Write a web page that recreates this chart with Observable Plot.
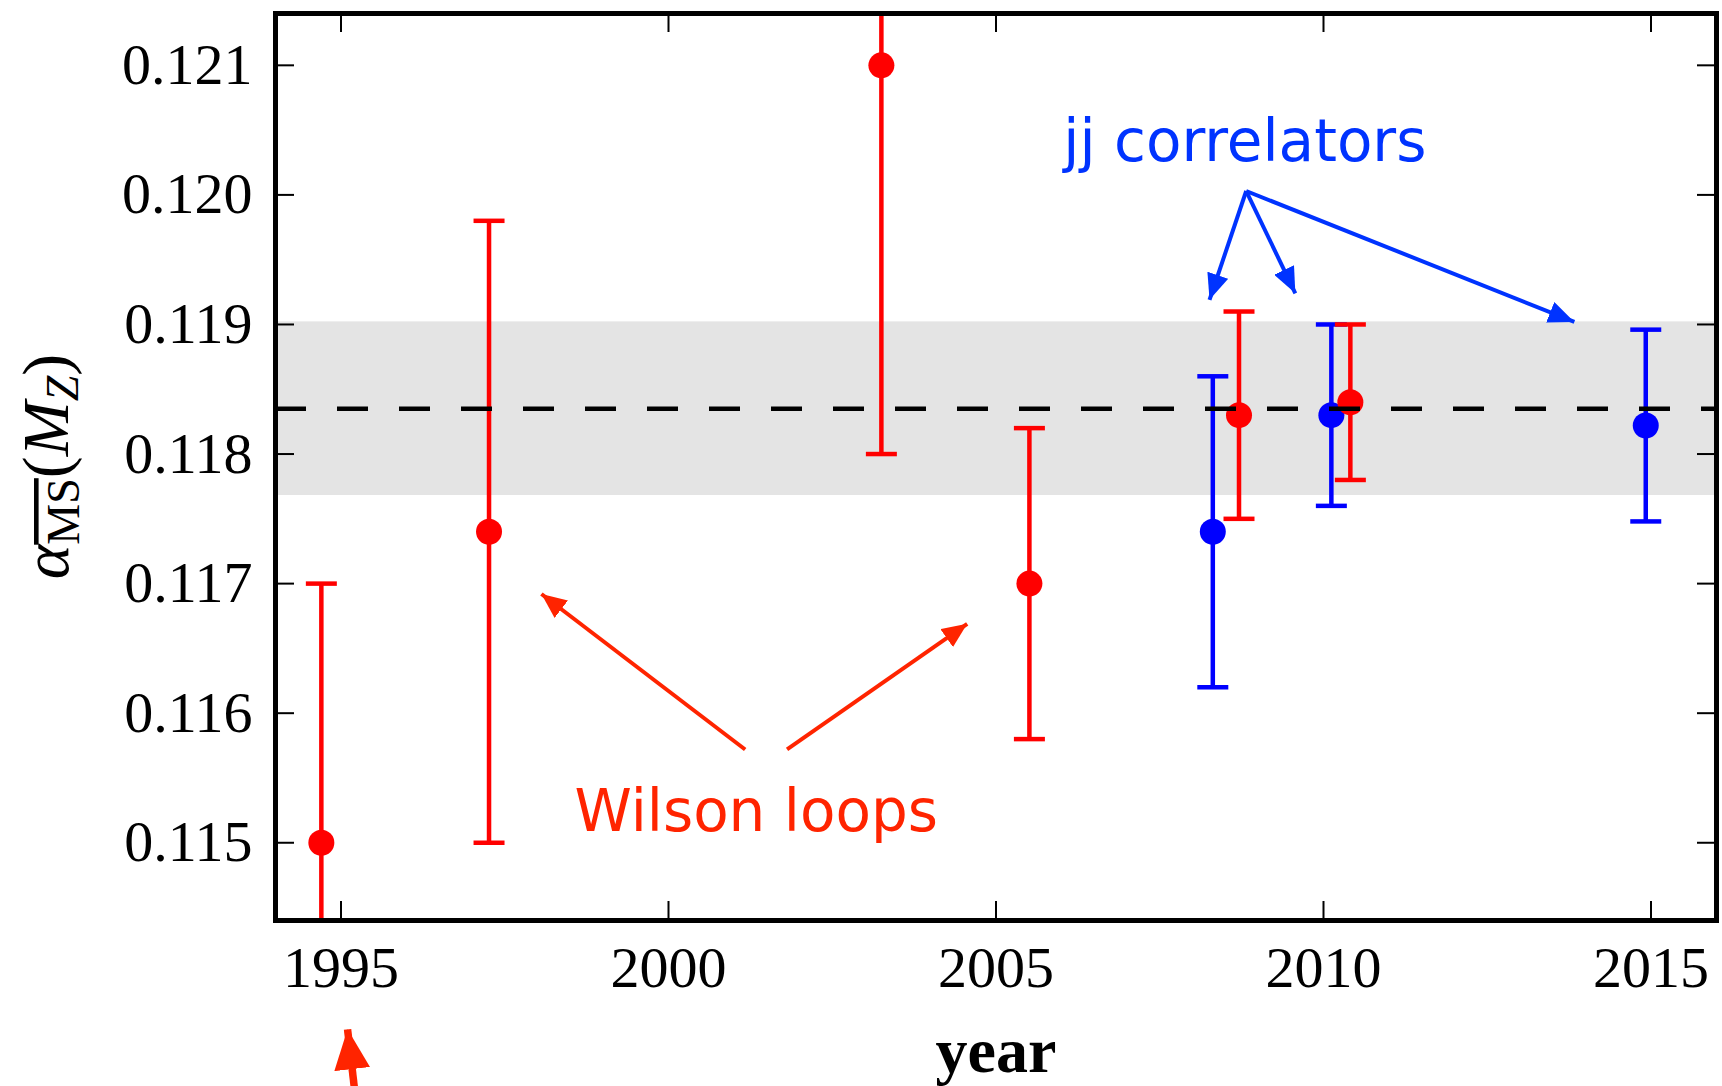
<!DOCTYPE html>
<html>
<head>
<meta charset="utf-8">
<script src="https://cdn.jsdelivr.net/npm/d3@7"></script>
<script src="https://cdn.jsdelivr.net/npm/@observablehq/plot@0.6"></script>
<style>
  html, body { margin: 0; padding: 0; background: #fff; }
</style>
</head>
<body>
<div id="chart"></div>
<script>
// Lattice determinations of alpha_s(M_Z) from Wilson loops
const wilsonYear  = [1994.70, 1997.26, 2003.25, 2005.51, 2008.71, 2010.41];
const wilsonAlpha = [0.1150, 0.1174, 0.1210, 0.1170, 0.1183, 0.1184];
const wilsonError = [0.0020, 0.0024, 0.0030, 0.0012, 0.0008, 0.0006];

// Determinations from current-current (jj) correlators
const jjYear  = [2008.31, 2010.12, 2014.92];
const jjAlpha = [0.1174, 0.1183, 0.11822];
const jjError = [0.0012, 0.0007, 0.00074];

// Average and its uncertainty band
const average = 0.11835;
const averageError = 0.00067;

// Axis ticks
const xTicks = [1995, 2000, 2005, 2010, 2015];
const yTicks = [0.115, 0.116, 0.117, 0.118, 0.119, 0.120, 0.121];

// Annotation labels (anchor year, anchor value)
const labelText  = ["jj correlators", "Wilson loops"];
const labelYear  = [2008.80, 2001.34];
const labelAlpha = [0.12026, 0.11509];

// Annotation arrows: tail (year, value) -> head (year, value)
const jjArrowX1 = [2008.82, 2008.82, 2008.82];
const jjArrowY1 = [0.12003, 0.12003, 0.12003];
const jjArrowX2 = [2008.26, 2009.57, 2013.83];
const jjArrowY2 = [0.11919, 0.11924, 0.11902];
const wlArrowX1 = [2001.17, 2001.81, 1995.22];
const wlArrowY1 = [0.11572, 0.11572, 0.11304];
const wlArrowX2 = [1998.06, 2004.56, 1995.10];
const wlArrowY2 = [0.11692, 0.11669, 0.11356];

const RED = "#ff0000", BLUE = "#0000ff";
const WL_COLOR = "#ff2400", JJ_COLOR = "#0033ff";

const wilson = wilsonYear.map((x, i) => ({x, y: wilsonAlpha[i], lo: wilsonAlpha[i] - wilsonError[i], hi: wilsonAlpha[i] + wilsonError[i]}));
const jj = jjYear.map((x, i) => ({x, y: jjAlpha[i], lo: jjAlpha[i] - jjError[i], hi: jjAlpha[i] + jjError[i]}));
const labels = labelText.map((t, i) => ({t, x: labelYear[i], y: labelAlpha[i]}));
const jjArrows = jjArrowX1.map((x1, i) => ({x1, y1: jjArrowY1[i], x2: jjArrowX2[i], y2: jjArrowY2[i]}));
const wlArrows = wlArrowX1.map((x1, i) => ({x1, y1: wlArrowY1[i], x2: wlArrowX2[i], y2: wlArrowY2[i], w: i === 2 ? 7.5 : 4}));

// horizontal error-bar cap drawn as a symbol
const capSymbol = {
  draw(context, size) {
    const h = Math.sqrt(size / Math.PI);
    context.moveTo(-h, 0);
    context.lineTo(h, 0);
  }
};

const W = 1722, H = 1086;
const mL = 275, mR = 6, mT = 13, mB = 166;
const innerW = W - mL - mR, innerH = H - mT - mB;
const TICK = 19;
const serif = "Liberation Serif";

function errorMarks(data, color) {
  return [
    Plot.ruleX(data, {x: "x", y1: "lo", y2: "hi", stroke: color, strokeWidth: 4.5, clip: true}),
    Plot.dot(data, {x: "x", y: "lo", symbol: capSymbol, r: 15.5, stroke: color, fill: "none", strokeWidth: 4.5, clip: true}),
    Plot.dot(data, {x: "x", y: "hi", symbol: capSymbol, r: 15.5, stroke: color, fill: "none", strokeWidth: 4.5, clip: true})
  ];
}

const chart = Plot.plot({
  width: W,
  height: H,
  marginLeft: mL,
  marginRight: mR,
  marginTop: mT,
  marginBottom: mB,
  style: {background: "#fff", color: "#000"},
  x: {domain: [1994, 2016]},
  y: {domain: [0.1144, 0.1214]},
  marks: [
    // uncertainty band of the average
    Plot.rect([average], {y1: d => d - averageError, y2: d => d + averageError, fill: "#e4e4e4"}),

    ...errorMarks(jj, BLUE),
    Plot.dot(jj, {x: "x", y: "y", r: 13, fill: BLUE}),
    ...errorMarks(wilson, RED),
    Plot.dot(wilson, {x: "x", y: "y", r: 13, fill: RED}),

    // average
    Plot.ruleY([average], {stroke: "#000", strokeWidth: 4.5, strokeDasharray: "31,31"}),

    // inward ticks on all four sides
    Plot.ruleX(xTicks, {x: d => d, insetTop: innerH - TICK, stroke: "#000", strokeWidth: 2}),
    Plot.ruleX(xTicks, {x: d => d, insetBottom: innerH - TICK, stroke: "#000", strokeWidth: 2}),
    Plot.ruleY(yTicks, {y: d => d, insetRight: innerW - TICK, stroke: "#000", strokeWidth: 2}),
    Plot.ruleY(yTicks, {y: d => d, insetLeft: innerW - TICK, stroke: "#000", strokeWidth: 2}),

    // tick labels
    Plot.axisX(xTicks, {tickSize: 0, tickPadding: 25, fontSize: 58, fontFamily: serif, tickFormat: d => String(d), label: null}),
    Plot.axisY(yTicks, {tickSize: 0, tickPadding: 23, fontSize: 58, fontFamily: serif, tickFormat: d3.format(".3f"), label: null}),

    // x-axis title
    Plot.text(["year"], {frameAnchor: "bottom", dy: 151, lineAnchor: "bottom", fontSize: 64, fontWeight: "bold", fontFamily: serif, fill: "#000"}),

    // annotations
    Plot.text(labels.slice(0, 1), {x: "x", y: "y", text: "t", lineAnchor: "bottom", textAnchor: "middle", fontSize: 58, fontFamily: "DejaVu Sans", fill: JJ_COLOR}),
    Plot.text(labels.slice(1), {x: "x", y: "y", text: "t", lineAnchor: "bottom", textAnchor: "middle", fontSize: 58, fontFamily: "DejaVu Sans", fill: WL_COLOR}),
    Plot.link(jjArrows, {x1: "x1", y1: "y1", x2: "x2", y2: "y2", stroke: JJ_COLOR, strokeWidth: 4}),
    Plot.link(wlArrows, {x1: "x1", y1: "y1", x2: "x2", y2: "y2", stroke: WL_COLOR, strokeWidth: "w"}),

    Plot.frame({stroke: "#000", strokeWidth: 5})
  ]
});

document.getElementById("chart").appendChild(chart);

const svg = d3.select(chart);
svg.attr("overflow", "visible");

// filled triangular arrowheads
const defs = svg.append("defs");
function head(id, color, len, wid) {
  defs.append("marker")
    .attr("id", id)
    .attr("viewBox", `0 0 ${len} ${wid}`)
    .attr("refX", len)
    .attr("refY", wid / 2)
    .attr("markerWidth", len)
    .attr("markerHeight", wid)
    .attr("markerUnits", "userSpaceOnUse")
    .attr("orient", "auto")
    .append("path")
    .attr("d", `M0,0L${len},${wid / 2}L0,${wid}Z`)
    .attr("fill", color);
}
head("head-jj", JJ_COLOR, 26, 22);
head("head-wl", WL_COLOR, 25, 22);
head("head-wl-big", WL_COLOR, 40, 36);

// the two link marks, in the order they were declared
const linkGroups = svg.selectAll('g[aria-label="link"]').nodes();
d3.select(linkGroups[0]).selectAll("path").attr("marker-end", "url(#head-jj)");
d3.select(linkGroups[1]).selectAll("path").each(function(d, i) {
  d3.select(this).attr("marker-end", i === 2 ? "url(#head-wl-big)" : "url(#head-wl)");
});

// y-axis title: alpha_{MS-bar}(M_Z)
const ylab = svg.append("text")
  .attr("transform", `translate(68,${mT + innerH / 2}) rotate(-90)`)
  .attr("text-anchor", "middle")
  .attr("font-family", serif)
  .attr("font-size", 66)
  .attr("fill", "#000");
ylab.append("tspan").attr("font-style", "italic").text("α");
ylab.append("tspan").attr("font-size", 46).attr("dy", 11).attr("text-decoration", "overline").text("MS");
ylab.append("tspan").attr("dy", -11).text("(");
ylab.append("tspan").attr("font-style", "italic").text("M");
ylab.append("tspan").attr("font-style", "italic").attr("font-size", 46).attr("dy", 10).text("Z");
ylab.append("tspan").attr("dy", -10).text(")");
</script>
</body>
</html>
